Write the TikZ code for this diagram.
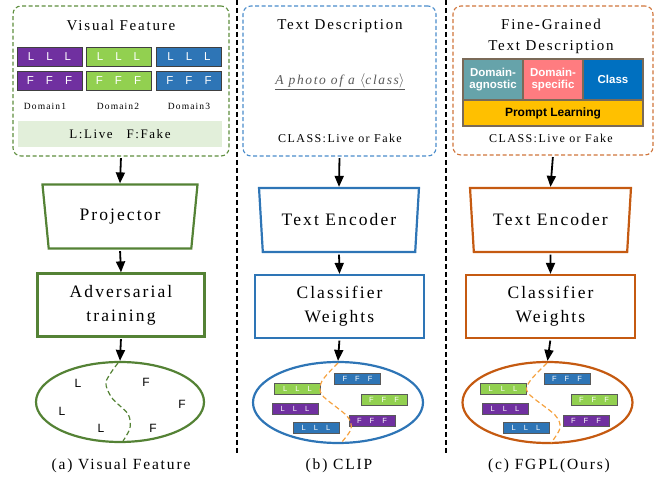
\documentclass[tikz,border=0pt]{standalone}
\usepackage{fontspec}
\setmainfont{Liberation Serif}[LetterSpace=12]
\newfontfamily\chipfont{Liberation Sans}
\usetikzlibrary{shapes.geometric,arrows.meta}

\definecolor{gA}{HTML}{548235}
\definecolor{gDash}{HTML}{5E8E3E}
\definecolor{bA}{HTML}{2E75B6}
\definecolor{oA}{HTML}{C55A11}
\definecolor{oDash}{HTML}{D0743A}
\definecolor{bDash}{HTML}{4A8CCB}
\definecolor{purp}{HTML}{7030A0}
\definecolor{lgreen}{HTML}{92D050}
\definecolor{blu}{HTML}{2E75B6}
\definecolor{pale}{HTML}{E2EFDA}
\definecolor{curve}{HTML}{F5A240}
\definecolor{tealc}{HTML}{66A3AA}
\definecolor{pinkc}{HTML}{FF7C80}
\definecolor{clsblue}{HTML}{0070C0}
\definecolor{gold}{HTML}{FFC000}
\definecolor{edgec}{HTML}{7A6A58}
\definecolor{grayt}{HTML}{595959}

\begin{document}
\begin{tikzpicture}[x=1pt,y=-1pt,
  panel/.style={draw=#1, line width=1.1pt, dash pattern=on 4pt off 2.5pt,
    rounded corners=8pt, inner sep=0pt},
  chip/.style={fill=#1, draw=black!75, line width=0.6pt, minimum width=65pt,
    minimum height=19pt, inner sep=0pt, text=white, font=\chipfont\fontsize{11.5}{12}\selectfont},
  minichip/.style={fill=#1, draw=black!65, line width=0.6pt, minimum width=46pt,
    minimum height=11pt, inner sep=0pt, text=white, font=\chipfont\fontsize{7.5}{8}\selectfont},
  ptbox/.style={fill=#1, draw=edgec, line width=1.1pt, inner sep=0pt, text=white,
    align=center, font=\chipfont\bfseries\fontsize{11.5}{12.5}\selectfont},
  trap/.style={draw=#1, line width=2.2pt, trapezium, shape border rotate=180,
    trapezium angle=77, trapezium stretches=true, minimum height=64pt,
    inner sep=0pt, font=\fontsize{17.5}{20}\selectfont},
  block/.style={draw=#1, line width=2.2pt, minimum width=167pt, minimum height=63pt,
    inner sep=0pt, align=center, font=\fontsize{17.5}{24}\selectfont},
  space/.style={draw=#1, line width=2.2pt, ellipse, minimum width=168pt,
    minimum height=80pt, inner sep=0pt},
  arr/.style={-{Triangle[length=11pt,width=9pt]}, line width=1.8pt, shorten <=1.5pt},
  ttl/.style={font=\fontsize{15}{17}\selectfont},
  sub/.style={font=\fontsize{12}{14}\selectfont},
  captxt/.style={font=\fontsize{15.5}{17}\selectfont},
  lt/.style={font=\chipfont\fontsize{12}{13}\selectfont},
  sep/.style={line width=1.4pt, dash pattern=on 5pt off 3pt},
  bound/.style={line width=1.2pt, dash pattern=on 5pt off 3pt, curve}
]
\useasboundingbox (0,0) rectangle (657,478);

% separators between the three columns
\coordinate (s1t) at (237,0);  \coordinate (s1b) at (237,455);
\coordinate (s2t) at (446,0);  \coordinate (s2b) at (446,455);
\draw[sep] (s1t) -- (s1b);
\draw[sep] (s2t) -- (s2b);

% ---------------- (a) visual feature ----------------
\node[panel=gDash, minimum width=216pt, minimum height=150pt] (vf) at (121,81) {};
\node[ttl] (vft) at (121,25) {Visual Feature};
\node[chip=purp]   (a1) at (49.5,57) {L\hspace{12pt}L\hspace{12pt}L};
\node[chip=lgreen] (a2) at (118.5,57) {L\hspace{12pt}L\hspace{12pt}L};
\node[chip=blu]    (a3) at (189,57) {L\hspace{12pt}L\hspace{12pt}L};
\node[chip=purp]   (a4) at (49.5,81) {F\hspace{12pt}F\hspace{12pt}F};
\node[chip=lgreen] (a5) at (118.5,81) {F\hspace{12pt}F\hspace{12pt}F};
\node[chip=blu]    (a6) at (189,81) {F\hspace{12pt}F\hspace{12pt}F};
\node[font=\fontsize{9.5}{12}\selectfont] (d1) at (45,106) {Domain1};
\node[font=\fontsize{9.5}{12}\selectfont] (d2) at (118,106) {Domain2};
\node[font=\fontsize{9.5}{12}\selectfont] (d3) at (189,106) {Domain3};
\node[fill=pale, minimum width=204pt, minimum height=26pt, inner sep=0pt,
      font=\fontsize{13}{14}\selectfont] (legend) at (120,134)
      {L:Live\hspace{14pt}F:Fake};

\node[trap=gA, minimum width=156pt] (proj) at (120,216.5) {Projector};
\node[block=gA] (adv) at (121,305) {Adversarial\\training};
\node[space=gA] (ela) at (120,402) {};
\node[lt] (la1) at (78,383) {L};
\node[lt] (fa1) at (146,382) {F};
\node[lt] (la2) at (62,411) {L};
\node[lt] (fa2) at (182,404) {F};
\node[lt] (la3) at (101,428) {L};
\node[lt] (fa3) at (153,428) {F};
\draw[gA, line width=1.2pt, dash pattern=on 5pt off 3pt]
  plot[smooth] coordinates {(118,363) (106,382) (112,398) (128,414) (130,428) (123,441)};

\draw[arr] (vf.south) -- (proj.north);
\draw[arr] (proj.south) -- (adv.north);
\draw[arr] (adv.south) -- (ela.north);
\node[captxt] (capa) at (121,466) {(a) Visual Feature};

% ---------------- (b) CLIP ----------------
\node[panel=bDash, minimum width=193pt, minimum height=150pt] (td) at (339.5,81) {};
\node[ttl] (tdt) at (340,26) {Text Description};
\node[font=\fontsize{13.5}{15}\selectfont, text=grayt] (tpl) at (340,82)
  {\underline{\textit{A photo of a $\langle$class$\rangle$}}};
\node[sub] (clsb) at (340,138) {CLASS:Live or Fake};

\node[trap=bA, minimum width=160pt] (encb) at (339,220) {Text Encoder};
\node[block=bA, minimum width=169pt] (wb) at (339.5,306.5) {Classifier\\Weights};
\node[space=bA, minimum width=170pt, minimum height=81pt] (elb) at (338,402.5) {};
\node[minichip=blu]    (b1) at (357.5,379) {F\hspace{8pt}F\hspace{8pt}F};
\node[minichip=lgreen] (b2) at (297.5,388.5) {L\hspace{8pt}L\hspace{8pt}L};
\node[minichip=lgreen] (b3) at (384,400) {F\hspace{8pt}F\hspace{8pt}F};
\node[minichip=purp]   (b4) at (295,408.5) {L\hspace{8pt}L\hspace{8pt}L};
\node[minichip=purp]   (b5) at (372,421) {F\hspace{8pt}F\hspace{8pt}F};
\node[minichip=blu]    (b6) at (316,428) {L\hspace{8pt}L\hspace{8pt}L};
\draw[bound]
  plot[smooth] coordinates {(338,363) (322,381) (322,395) (347,416) (351,429) (341,443)};

\draw[arr] (td.south) -- (encb.north);
\draw[arr] (encb.south) -- (wb.north);
\draw[arr] (wb.south) -- (elb.north);
\node[captxt] (capb) at (339,466) {(b) CLIP};

% ---------------- (c) FGPL ----------------
\node[panel=oDash, minimum width=200pt, minimum height=149pt] (fg) at (553,80.5) {};
\node[align=center, font=\fontsize{15}{21}\selectfont] (fgt) at (551,36)
  {Fine-Grained\\Text Description};
\node[ptbox=tealc, minimum width=60pt, minimum height=41pt] (pa) at (493,79.5)
  {Domain-\\agnostic};
\node[ptbox=pinkc, minimum width=60pt, minimum height=41pt] (ps) at (553,79.5)
  {Domain-\\specific};
\node[ptbox=clsblue, minimum width=60pt, minimum height=41pt] (pc) at (613,79.5)
  {Class};
\node[ptbox=gold, text=black, minimum width=180pt, minimum height=26pt,
      font=\chipfont\bfseries\fontsize{12}{13}\selectfont] (pl) at (553,113)
  {Prompt Learning};
\node[sub] (clsc) at (551,138) {CLASS:Live or Fake};

\node[trap=oA, minimum width=161pt] (encc) at (550.5,220) {Text Encoder};
\node[block=oA, minimum width=169pt] (wc) at (550.5,306.5) {Classifier\\Weights};
\node[space=oA, minimum width=170pt, minimum height=81pt] (elc) at (547.5,402.5) {};
\node[minichip=blu]    (c1) at (567,379) {F\hspace{8pt}F\hspace{8pt}F};
\node[minichip=lgreen] (c2) at (503,388.5) {L\hspace{8pt}L\hspace{8pt}L};
\node[minichip=lgreen] (c3) at (594,399.5) {F\hspace{8pt}F\hspace{8pt}F};
\node[minichip=purp]   (c4) at (505,408.5) {L\hspace{8pt}L\hspace{8pt}L};
\node[minichip=purp]   (c5) at (586,421) {F\hspace{8pt}F\hspace{8pt}F};
\node[minichip=blu]    (c6) at (526,427.5) {L\hspace{8pt}L\hspace{8pt}L};
\draw[bound]
  plot[smooth] coordinates {(547,363) (530,381) (528,393) (555,415) (560,428) (551,443)};

\draw[arr] (fg.south) -- (encc.north);
\draw[arr] (encc.south) -- (wc.north);
\draw[arr] (wc.south) -- (elc.north);
\node[captxt] (capc) at (549,466) {(c) FGPL(Ours)};
\end{tikzpicture}
\end{document}
